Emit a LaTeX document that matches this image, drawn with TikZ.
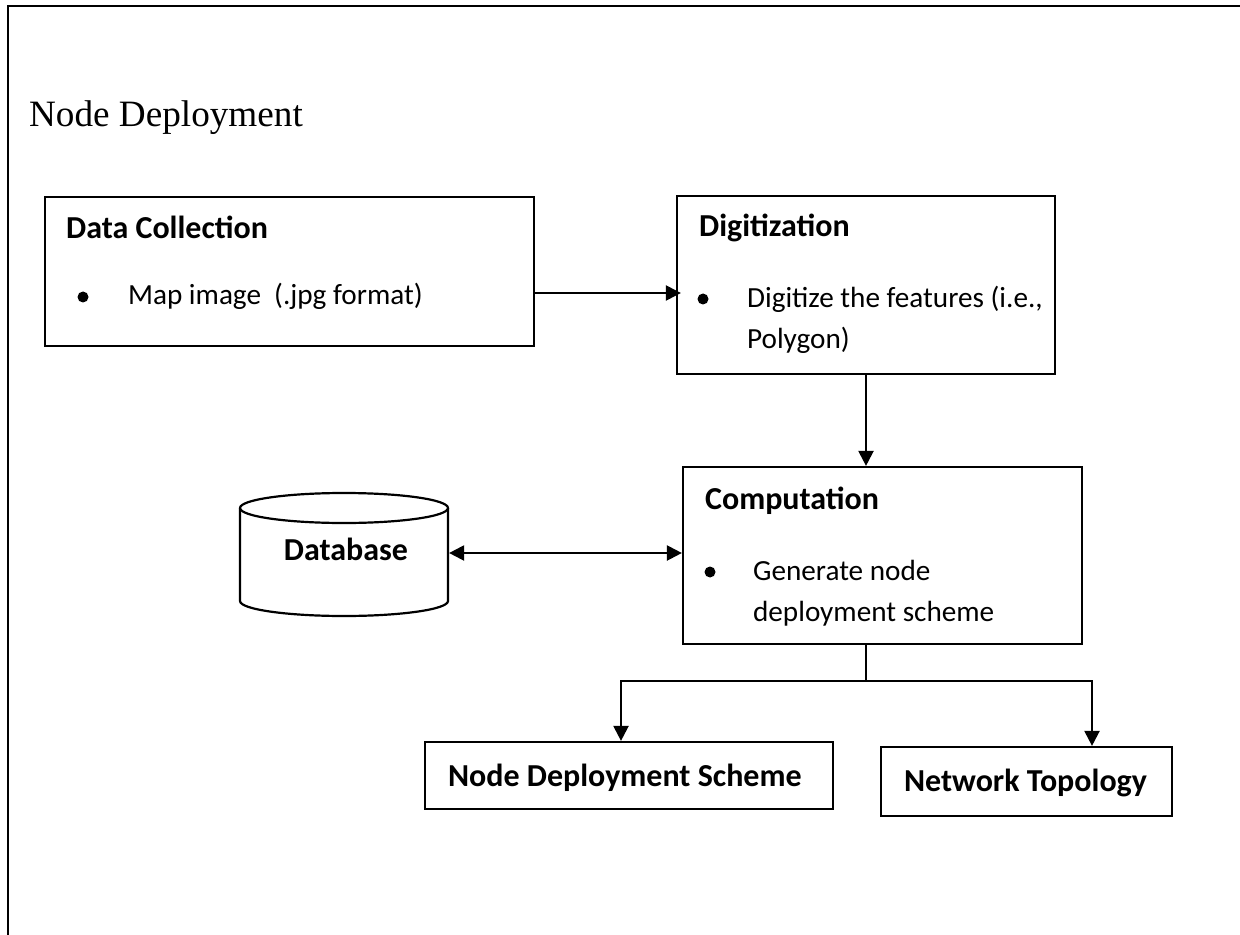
\documentclass[tikz,border=0pt]{standalone}
\usepackage{fontspec}
\setmainfont{Liberation Serif}
\newfontfamily\carlito{Carlito}
\usetikzlibrary{arrows.meta,fit}

\begin{document}
\begin{tikzpicture}[x=0.5pt,y=-0.5pt,
  line width=1.1pt,
  box/.style={draw, rectangle, inner sep=0pt},
  heading/.style={anchor=base west, inner sep=0pt,
    font=\carlito\bfseries\fontsize{16}{20}\selectfont},
  body/.style={anchor=base west, inner sep=0pt,
    font=\carlito\fontsize{14.6}{18}\selectfont},
  bul/.style={circle, fill, inner sep=0pt, minimum size=5.5pt},
  arr/.style={-{Triangle[length=7.5pt,width=7.5pt]}},
  dblarr/.style={{Triangle[length=7.5pt,width=7.5pt]}-{Triangle[length=7.5pt,width=7.5pt]}}
]
\useasboundingbox (0,0) rectangle (1240,935);

% page frame
\draw[line width=1pt] (8,935) -- (8,6.5) -- (1240,6.5);

% title
\node[anchor=base west, inner sep=0pt, font=\fontsize{18.6}{22}\selectfont]
  (title) at (28,127) {Node Deployment};

% Data Collection
\node[box, fit={(45,197) (534,346)}] (dc) {};
\node[heading] (dch) at (65,239) {Data Collection};
\node[bul] (dcb) at (83,297) {};
\node[body] (dct) at (127,305) {Map image\ \ (.jpg format)};

% Digitization
\node[box, fit={(677,196) (1055,374)}] (dig) {};
\node[heading] (digh) at (698,237) {Digitization};
\node[bul] (digb) at (703,299) {};
\node[body] (digt1) at (746,307) {Digitize the features (i.e.,};
\node[body] (digt2) at (746,349) {Polygon)};

% Computation
\node[box, fit={(683,467) (1082,644)}] (comp) {};
\node[heading] (comph) at (704,509) {Computation};
\node[bul] (compb) at (710,572) {};
\node[body] (compt1) at (752,580) {Generate node};
\node[body] (compt2) at (752,621) {deployment scheme};

% Database cylinder
\node[inner sep=0pt, fit={(240,493) (448,616)}] (db) {};
\draw (240,508) -- (240,601)
  arc[start angle=180, end angle=360, x radius=52pt, y radius=7.5pt]
  -- (448,508);
\draw (344,508) ellipse [x radius=52pt, y radius=7.5pt];
\node[heading, anchor=base] (dbt) at (346,560) {Database};

% outputs
\node[box, fit={(425,742) (833,809)}] (nds) {};
\node[heading] (ndst) at (447,786) {Node Deployment Scheme};
\node[box, fit={(881,747) (1172,816)}] (nt) {};
\node[heading] (ntt) at (903,791) {Network Topology};

% connectors
\draw[arr, shorten >=-2.5pt] (dc.east |- 0,293) -- (dig.west |- 0,293);
\draw[arr] (dig.south -| 866,0) -- (comp.north -| 866,0);
\draw[dblarr] (db.east |- 0,553) -- (comp.west |- 0,553);
\coordinate (split) at (866,681);
\draw (comp.south -| split) -- (split);
\draw[arr] (split) -| (nds.north -| 621,0);
\draw[arr] (split) -| (nt.north -| 1092,0);
\end{tikzpicture}
\end{document}
